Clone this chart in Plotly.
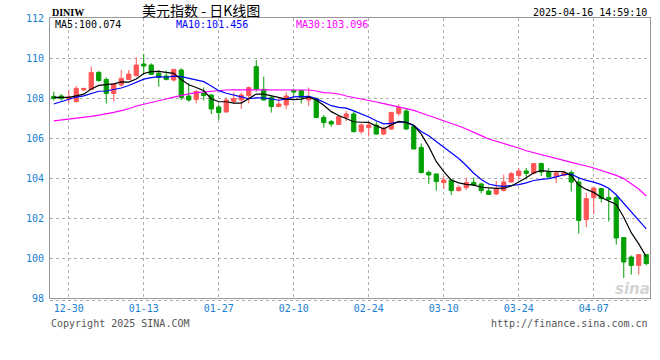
import plotly.graph_objects as go
import pandas as pd
import numpy as np

# ---------------- data ----------------
dates = [d.strftime("%m-%d") for d in pd.bdate_range("2024-12-26", "2025-04-16")]

opens = [108.08, 108.10, 107.95, 107.82, 108.40, 108.43, 109.28, 108.93, 108.23, 108.65,
         108.93, 109.12, 109.70, 109.65, 109.23, 109.10, 108.90, 109.40, 108.10, 107.93,
         108.23, 108.15, 107.55, 107.30, 107.83, 107.90, 108.12, 109.57, 108.43, 108.02,
         107.57, 107.65, 108.37, 108.37, 107.90, 107.98, 107.03, 106.82, 106.68, 107.03,
         107.20, 106.32, 106.52, 106.65, 106.20, 106.45, 107.23, 107.35, 106.57, 105.53,
         104.28, 104.20, 103.77, 103.90, 103.37, 103.52, 103.78, 103.70, 103.35, 103.20,
         103.38, 103.80, 104.13, 104.35, 104.23, 104.72, 104.30, 104.08, 104.13, 104.27,
         103.80, 101.92, 103.02, 103.47, 103.02, 103.02, 101.02, 100.05, 99.63, 100.17]
highs = [108.32, 108.20, 108.40, 108.60, 108.50, 109.57, 109.35, 109.03, 108.73, 109.40,
         109.40, 110.03, 110.20, 109.73, 109.40, 109.37, 109.43, 109.48, 108.73, 108.40,
         108.53, 108.20, 107.65, 108.03, 108.28, 108.28, 108.57, 109.90, 109.07, 108.10,
         108.03, 108.28, 108.47, 108.40, 108.52, 108.02, 107.15, 106.90, 107.08, 107.35,
         107.32, 106.73, 106.82, 106.82, 106.57, 107.30, 107.68, 107.45, 106.58, 105.73,
         104.37, 104.22, 104.10, 103.93, 103.65, 104.03, 104.03, 103.77, 103.53, 103.85,
         104.17, 104.30, 104.50, 104.50, 104.72, 104.77, 104.50, 104.38, 104.35, 104.38,
         104.05, 103.25, 103.50, 103.50, 103.47, 103.10, 101.02, 100.13, 100.17, 100.17]
lows = [107.88, 107.87, 107.73, 107.77, 108.37, 108.40, 108.82, 107.73, 107.82, 108.57,
        108.90, 109.07, 109.15, 109.15, 108.57, 108.87, 108.82, 107.90, 107.82, 107.73,
        107.87, 107.20, 106.90, 107.28, 107.70, 107.45, 107.73, 108.32, 107.88, 107.27,
        107.55, 107.45, 108.07, 107.73, 107.60, 107.00, 106.52, 106.57, 106.66, 106.85,
        106.27, 106.20, 106.07, 106.15, 106.15, 106.40, 107.10, 106.40, 105.45, 104.23,
        103.70, 103.37, 103.45, 103.15, 103.32, 103.40, 103.60, 103.23, 103.15, 103.15,
        103.33, 103.77, 103.93, 103.93, 104.18, 104.10, 104.02, 103.75, 104.08, 103.33,
        101.22, 101.55, 102.18, 102.77, 101.83, 100.67, 99.00, 99.17, 99.17, 99.63]
closes = [107.98, 107.97, 108.05, 108.48, 108.48, 109.27, 108.87, 108.23, 108.70, 108.98,
          109.20, 109.65, 109.60, 109.18, 109.03, 108.93, 109.43, 108.03, 107.90, 108.32,
          108.12, 107.45, 107.27, 107.90, 107.97, 108.15, 108.52, 108.45, 107.90, 107.57,
          107.70, 108.10, 108.30, 108.03, 108.07, 107.02, 106.77, 106.70, 107.07, 107.20,
          106.32, 106.65, 106.65, 106.20, 106.48, 107.28, 107.52, 106.45, 105.45, 104.27,
          104.15, 103.82, 103.90, 103.37, 103.53, 103.77, 103.65, 103.37, 103.18, 103.45,
          103.80, 104.22, 104.35, 104.23, 104.72, 104.30, 104.05, 104.25, 104.25, 103.80,
          101.88, 102.97, 103.50, 102.97, 102.93, 101.00, 99.80, 99.63, 100.17, 99.72]
# closes of the 9 sessions before the window (needed for MA5 / MA10 at the left edge)
prior_closes = [106.80, 106.90, 107.30, 107.90, 107.93, 107.90, 108.10, 108.10, 108.07]
# MA30
ma30 = [106.86, 106.90, 106.93, 106.99, 107.04, 107.08, 107.14, 107.20, 107.28, 107.37,
        107.46, 107.60, 107.68, 107.77, 107.85, 107.95, 108.04, 108.13, 108.21, 108.27,
        108.31, 108.35, 108.39, 108.40, 108.41, 108.41, 108.40, 108.40, 108.41, 108.40,
        108.40, 108.39, 108.40, 108.40, 108.40, 108.35, 108.27, 108.25, 108.20, 108.10,
        108.03, 107.97, 107.88, 107.80, 107.72, 107.64, 107.56, 107.48, 107.38, 107.25,
        107.12, 107.00, 106.88, 106.72, 106.60, 106.45, 106.30, 106.12, 105.95, 105.84,
        105.74, 105.62, 105.50, 105.36, 105.27, 105.18, 105.06, 104.97, 104.88, 104.78,
        104.70, 104.60, 104.50, 104.38, 104.28, 104.13, 103.97, 103.70, 103.45, 103.10]

tick_dates = ["12-30", "01-13", "01-27", "02-10", "02-24", "03-10", "03-24", "04-07"]
y_ticks = [98, 100, 102, 104, 106, 108, 110, 112]

title_text = "美元指数 - 日K线图"
symbol_text = "DINIW"
time_text = "2025-04-16 14:59:10"
copyright_text = "Copyright 2025 SINA.COM"
url_text = "http://finance.sina.com.cn"
ma_labels = ["MA5:100.074", "MA10:101.456", "MA30:103.096"]

# ---------------- moving averages ----------------
ext = np.array(prior_closes + closes)
off = len(prior_closes)
ma5 = [ext[i + off - 4:i + off + 1].mean() for i in range(len(closes))]
ma10 = [ext[i + off - 9:i + off + 1].mean() for i in range(len(closes))]

# ---------------- figure ----------------
UP = "#ff5555"
DOWN = "#00a000"
MONO = "DejaVu Sans Mono"
BLUE_TXT = "#1a80d0"

fig = go.Figure()
fig.add_trace(go.Candlestick(
    x=dates, open=opens, high=highs, low=lows, close=closes,
    increasing=dict(line=dict(color=UP, width=1), fillcolor=UP),
    decreasing=dict(line=dict(color=DOWN, width=1), fillcolor=DOWN),
    whiskerwidth=0, hoverinfo="skip"))
fig.add_trace(go.Scatter(x=dates, y=ma30, mode="lines", line=dict(color="#ff00ff", width=1.2)))
fig.add_trace(go.Scatter(x=dates, y=ma10, mode="lines", line=dict(color="#0000ff", width=1.2)))
fig.add_trace(go.Scatter(x=dates, y=ma5, mode="lines", line=dict(color="#000000", width=1.2)))

L, R, T, B = 50, 650, 18, 298


def px(x):
    return (x - L) / (R - L)


def py(y):
    return (B - y) / (B - T)


fig.update_layout(
    width=660, height=360,
    margin=dict(l=50, r=10, t=18, b=62),
    paper_bgcolor="white", plot_bgcolor="white",
    showlegend=False, boxgap=0.2,
    xaxis=dict(type="category", range=[-0.5, len(dates) - 0.5],
               rangeslider=dict(visible=False),
               tickmode="array", tickvals=tick_dates, ticktext=tick_dates,
               showgrid=True, gridcolor="#b0b0b0", griddash="dot", gridwidth=1,
               showline=True, linecolor="#999999", linewidth=1, mirror=True,
               ticks="", ticklabelstandoff=1,
               tickfont=dict(family=MONO, size=10, color=BLUE_TXT), zeroline=False),
    yaxis=dict(range=[98, 112], tickmode="array", tickvals=y_ticks,
               ticktext=[str(v) for v in y_ticks],
               showgrid=True, gridcolor="#b0b0b0", griddash="dot", gridwidth=1,
               showline=True, linecolor="#999999", linewidth=1, mirror=True,
               ticks="", ticklabelstandoff=3,
               tickfont=dict(family=MONO, size=10, color=BLUE_TXT), zeroline=False),
)

ann = []
ann.append(dict(text=title_text, x=px(201), y=py(10), xanchor="center", yanchor="middle",
                font=dict(family="Noto Sans CJK SC", size=14, color="#000")))
ann.append(dict(text="<b>" + symbol_text + "</b>", x=px(50), y=py(12), xanchor="left", yanchor="middle",
                font=dict(family="Liberation Serif", size=10, color="#000")))
ann.append(dict(text=time_text, x=px(649), y=py(12), xanchor="right", yanchor="middle",
                font=dict(family=MONO, size=10, color="#000")))
ann.append(dict(text=ma_labels[0], x=px(53), y=py(24), xanchor="left", yanchor="middle",
                font=dict(family=MONO, size=10, color="#000")))
ann.append(dict(text=ma_labels[1], x=px(174), y=py(24), xanchor="left", yanchor="middle",
                font=dict(family=MONO, size=10, color="#0000ff")))
ann.append(dict(text=ma_labels[2], x=px(294), y=py(24), xanchor="left", yanchor="middle",
                font=dict(family=MONO, size=10, color="#ff00ff")))
ann.append(dict(text=copyright_text, x=px(49), y=py(323), xanchor="left", yanchor="middle",
                font=dict(family=MONO, size=10, color="#555")))
ann.append(dict(text=url_text, x=px(650), y=py(323), xanchor="right", yanchor="middle",
                font=dict(family=MONO, size=10, color="#555")))
ann.append(dict(text="<b><i>sina</i></b>", x=px(632), y=py(289), xanchor="center", yanchor="middle",
                font=dict(family="DejaVu Sans", size=15, color="#d4d4d4")))
for a in ann:
    a.update(xref="paper", yref="paper", showarrow=False)
fig.update_layout(annotations=ann)

fig.add_shape(type="line", xref="paper", yref="paper", x0=0, x1=1, y0=py(300.5), y1=py(300.5),
              line=dict(color="#aaaaaa", width=1, dash="dot"))

fig.write_html("out.html", config={"displayModeBar": False},
               post_script="document.body.style.margin='0';document.body.style.overflow='hidden';")
